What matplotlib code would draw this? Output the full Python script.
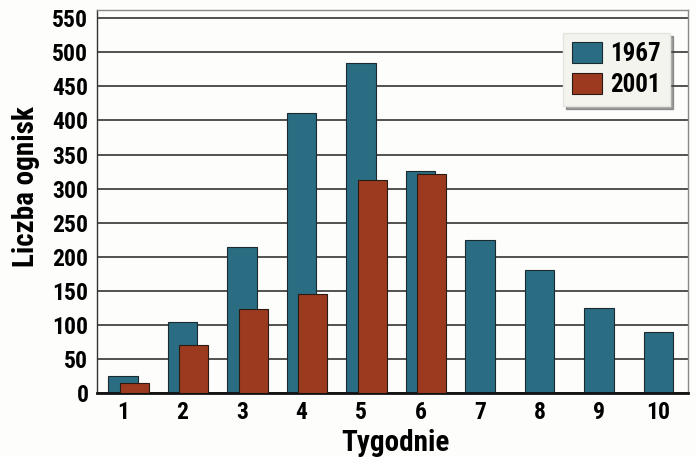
import matplotlib
matplotlib.use('Agg')
from matplotlib import pyplot as plt
import numpy as np

plt.rcParams['font.family'] = ['Roboto Condensed', 'Fira Sans Condensed', 'DejaVu Sans']
plt.rcParams['font.weight'] = 'bold'

tygodnie = [1, 2, 3, 4, 5, 6, 7, 8, 9, 10]
v1967 = [25, 104, 214, 411, 485, 326, 225, 180, 125, 89]
v2001 = [15, 71, 123, 146, 312, 321]

c1967 = '#2a6d82'
c2001 = '#9b3a1f'

fig = plt.figure(figsize=(6.96, 4.57), dpi=100)
fig.patch.set_facecolor('#fdfdfb')
ax = fig.add_axes([0.139, 0.140, 0.850, 0.838])
ax.set_facecolor('#fdfdfb')

x = np.array(tygodnie, dtype=float)
ax.bar(x, v1967, width=0.49, color=c1967, edgecolor='#1a2a30', linewidth=0.8,
       zorder=2, label='1967')
ax.bar(x[:len(v2001)] + 0.19, v2001, width=0.49, color=c2001, edgecolor='#2a1a14',
       linewidth=0.8, zorder=3, label='2001')

ax.set_ylim(0, 562)
ax.set_xlim(0.56, 10.5)
ax.set_yticks(range(0, 551, 50))
ax.set_xticks(tygodnie)
ax.tick_params(length=0, labelsize=17, pad=6)
for lab in ax.get_xticklabels() + ax.get_yticklabels():
    lab.set_fontweight('bold')

ax.yaxis.grid(True, color='#222222', linewidth=1.1, zorder=0)
ax.set_axisbelow(True)

for s in ['top', 'right']:
    ax.spines[s].set_color('#888888')
    ax.spines[s].set_linewidth(1.0)
ax.spines['left'].set_color('#333333')
ax.spines['left'].set_linewidth(1.0)
ax.spines['bottom'].set_color('#111111')
ax.spines['bottom'].set_linewidth(2.0)

ax.set_ylabel('Liczba ognisk', fontsize=21, fontweight='bold')
ax.yaxis.set_label_coords(-0.096, 0.54)
ax.set_xlabel('Tygodnie', fontsize=21, fontweight='bold')
ax.xaxis.set_label_coords(0.505, -0.093)

leg = ax.legend(loc='upper right', bbox_to_anchor=(0.969, 0.94), borderaxespad=0,
                fontsize=18, frameon=True, fancybox=False, shadow=True,
                borderpad=0.35, handlelength=1.2, handleheight=0.9,
                handletextpad=0.35, labelspacing=0.3)
leg.get_frame().set_facecolor('#f4f4ee')
leg.get_frame().set_edgecolor('#e4e4e0')
for t in leg.get_texts():
    t.set_fontweight('bold')

plt.savefig('out.png', dpi=100, facecolor=fig.get_facecolor())
